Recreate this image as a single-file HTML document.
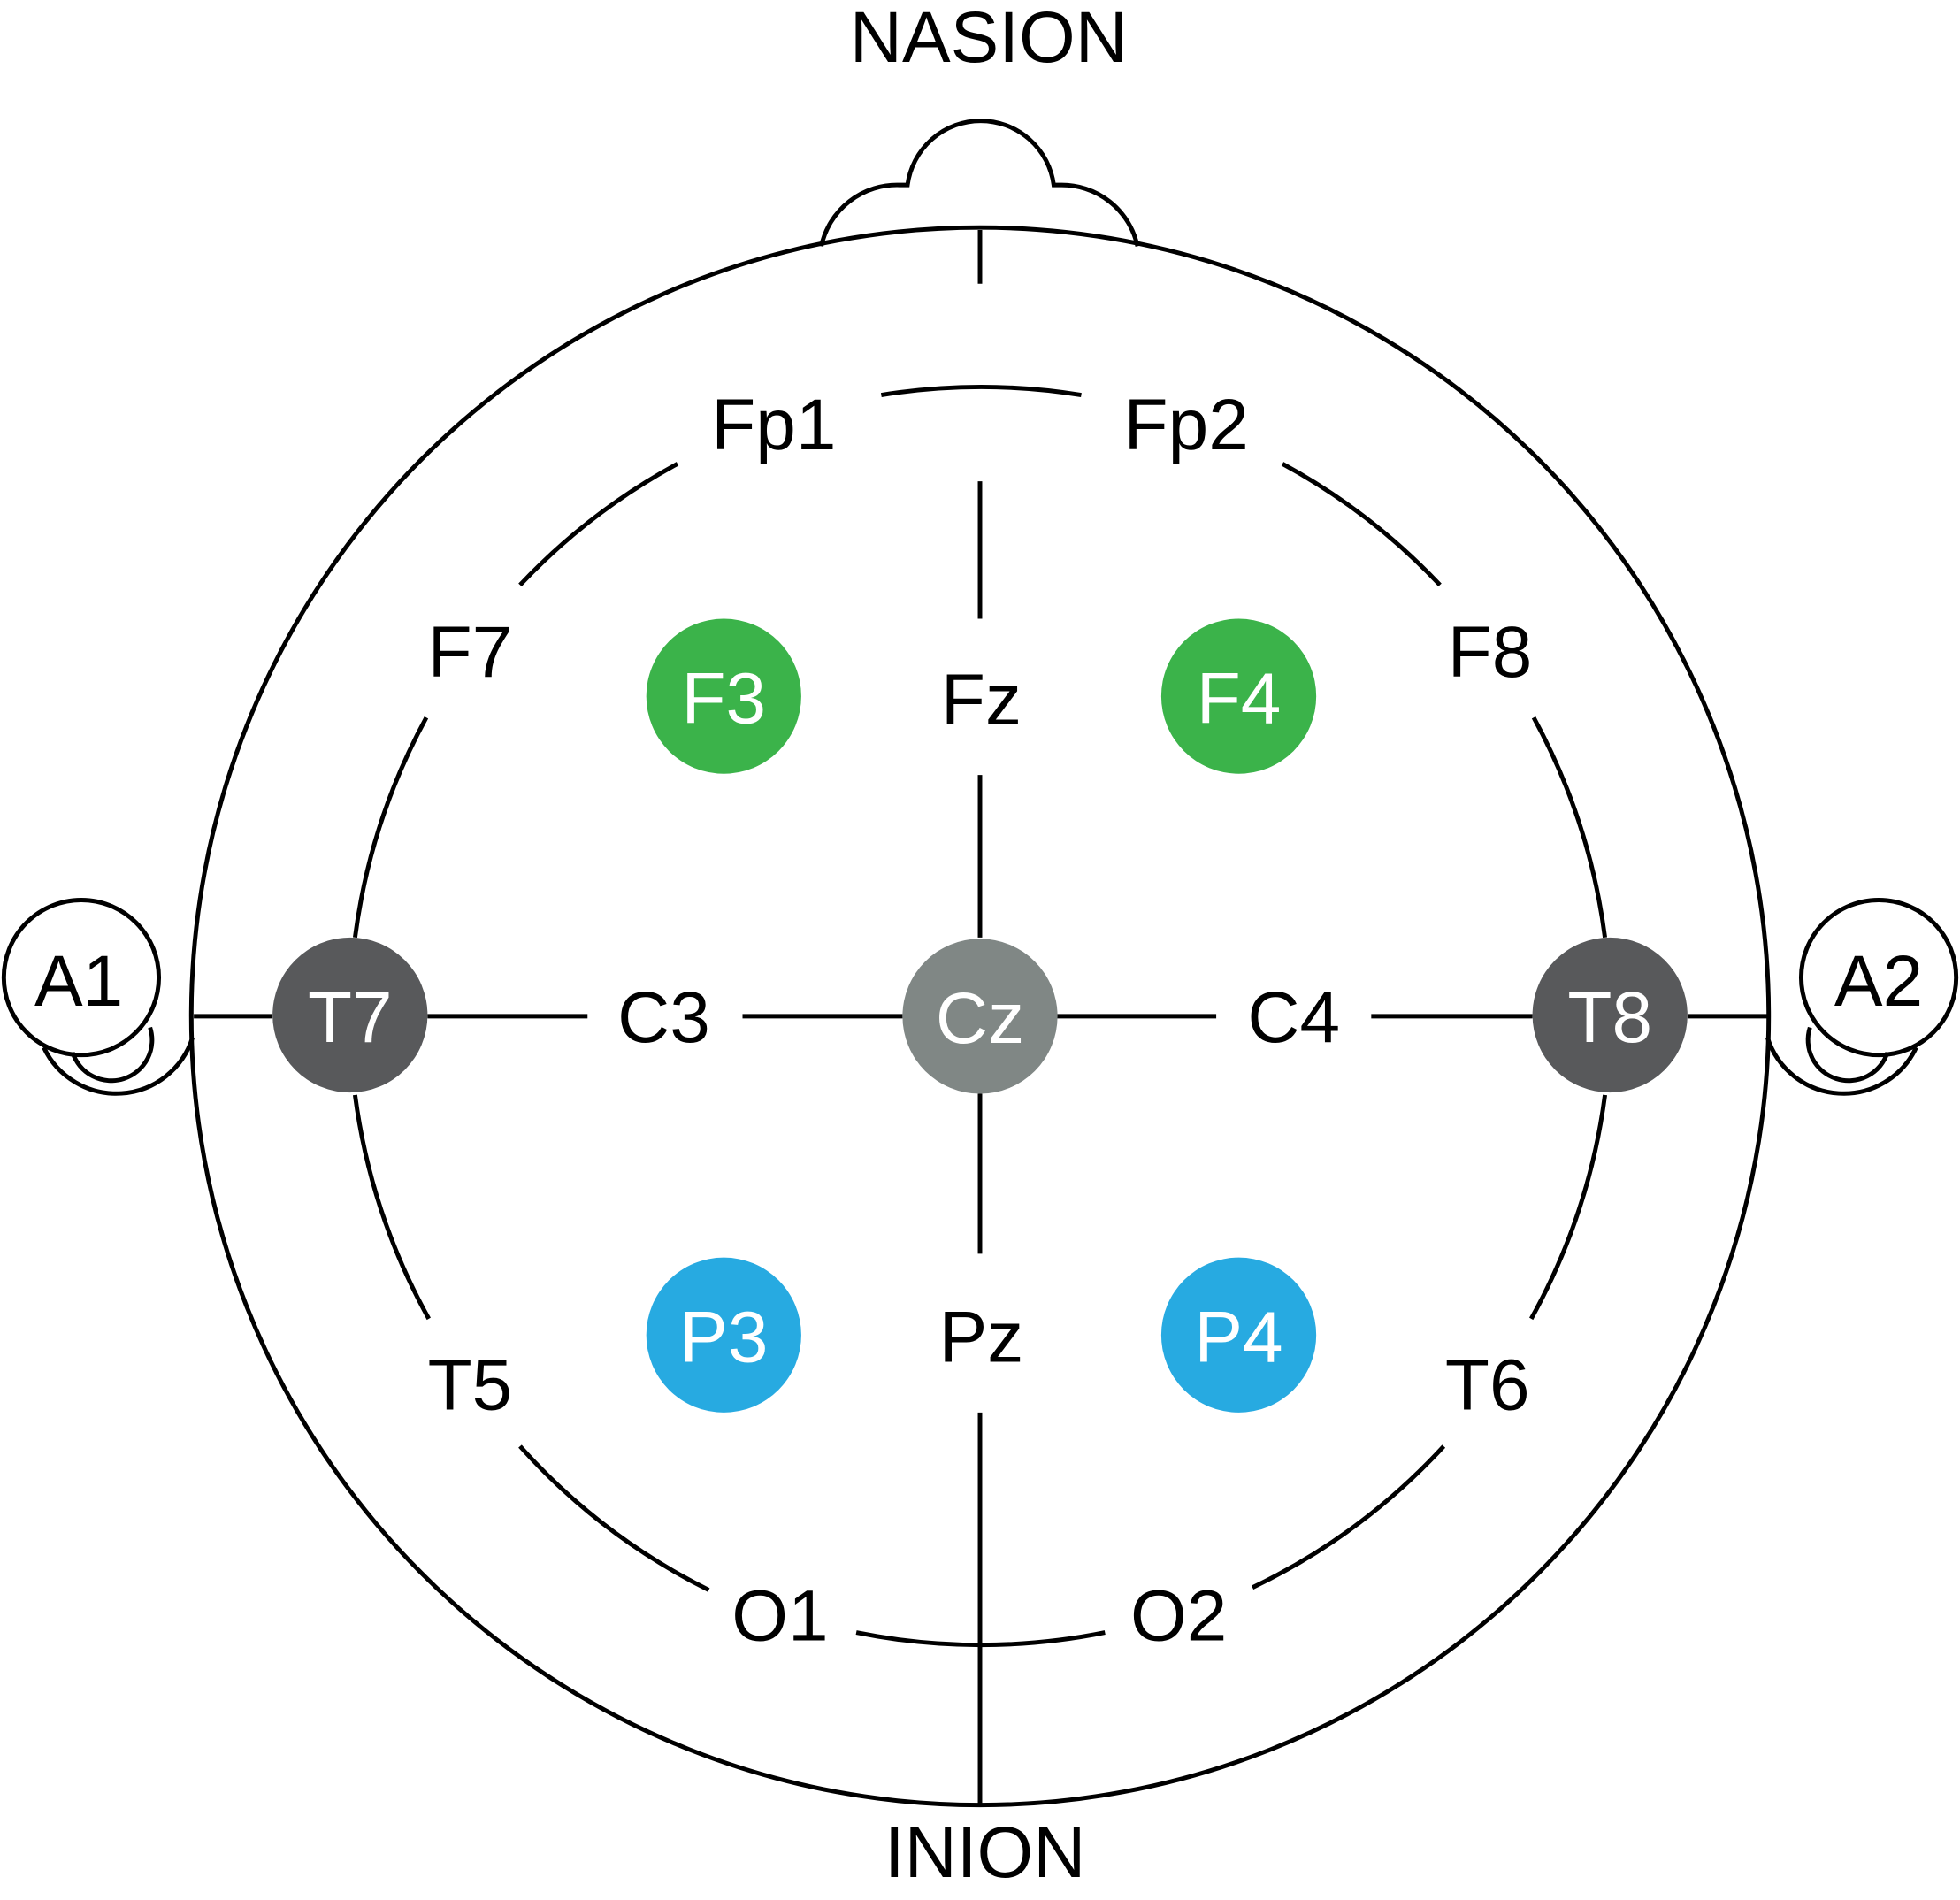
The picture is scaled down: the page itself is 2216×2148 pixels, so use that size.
<!DOCTYPE html>
<html><head><meta charset="utf-8"><style>
html,body{margin:0;padding:0;background:#fff;}
svg{display:block;}
text{font-family:"Liberation Sans",Arial,sans-serif;font-size:58px;text-anchor:middle;dominant-baseline:central;fill:#000;}
.w{fill:#fff;}
</style></head><body>
<svg width="2216" height="2148" viewBox="0 0 1568 1520" xmlns="http://www.w3.org/2000/svg">
<g fill="none" stroke="#000" stroke-width="3.5">
  <circle cx="784" cy="813" r="631"/>
  <path d="M657,197 A62 62 0 0 1 720,148 L726,148 A59 59 0 0 1 843,148 L848,148 A62 62 0 0 1 910,197"/>
  <circle cx="65" cy="782" r="62" fill="#fff"/>
  <path d="M154,830 A64 64 0 0 1 35,838"/>
  <path d="M120,822 A31 31 0 0 1 58,842"/>
  <circle cx="1503" cy="782" r="62" fill="#fff"/>
  <path d="M1414,830 A64 64 0 0 0 1533,838"/>
  <path d="M1448,822 A31 31 0 0 0 1510,842"/>
</g>
<g fill="none" stroke="#000" stroke-width="3.5">
  <path d="M784,184 V227 M784,385 V495 M784,620 V750 M784,875 V1003 M784,1130 V1444"/>
  <path d="M155,813 H218 M342,813 H470 M594,813 H722 M845,813 H973 M1097,813 H1226 M1350,813 H1414"/>
  <path d="M705,316 A503 503 0 0 1 865,316"/>
  <path d="M542,371 A503 503 0 0 0 416,468"/>
  <path d="M341,574 A503 503 0 0 0 284,750"/>
  <path d="M284,876 A503 503 0 0 0 343,1055"/>
  <path d="M416,1157 A503 503 0 0 0 567,1272"/>
  <path d="M685,1306 A503 503 0 0 0 884,1306"/>
  <path d="M1026,371 A503 503 0 0 1 1152,468"/>
  <path d="M1227,574 A503 503 0 0 1 1284,750"/>
  <path d="M1284,876 A503 503 0 0 1 1225,1055"/>
  <path d="M1155,1157 A503 503 0 0 1 1002,1270"/>
</g>
<g>
  <circle cx="579" cy="557" r="62" fill="#3bb34a"/>
  <circle cx="991" cy="557" r="62" fill="#3bb34a"/>
  <circle cx="784" cy="813" r="62" fill="#808785"/>
  <circle cx="280" cy="812" r="62" fill="#58595b"/>
  <circle cx="1288" cy="812" r="62" fill="#58595b"/>
  <circle cx="579" cy="1068" r="62" fill="#27aae1"/>
  <circle cx="991" cy="1068" r="62" fill="#27aae1"/>
</g>
<g>
  <text class="w" x="579" y="559">F3</text>
  <text class="w" x="991" y="559">F4</text>
  <text class="w" x="784" y="815">Cz</text>
  <text class="w" x="280" y="814">T7</text>
  <text class="w" x="1288" y="814">T8</text>
  <text class="w" x="579" y="1070">P3</text>
  <text class="w" x="991" y="1070">P4</text>
  <text x="619" y="340">Fp1</text>
  <text x="949" y="340">Fp2</text>
  <text x="376" y="522">F7</text>
  <text x="1192" y="522">F8</text>
  <text x="785" y="560">Fz</text>
  <text x="531" y="814">C3</text>
  <text x="1035" y="814">C4</text>
  <text x="785" y="1070">Pz</text>
  <text x="376" y="1108">T5</text>
  <text x="1190" y="1108">T6</text>
  <text x="624" y="1293">O1</text>
  <text x="943" y="1293">O2</text>
  <text x="63" y="785">A1</text>
  <text x="1503" y="785">A2</text>
  <text x="791" y="30">NASION</text>
  <text x="788" y="1482">INION</text>
</g>
</svg>
</body></html>
